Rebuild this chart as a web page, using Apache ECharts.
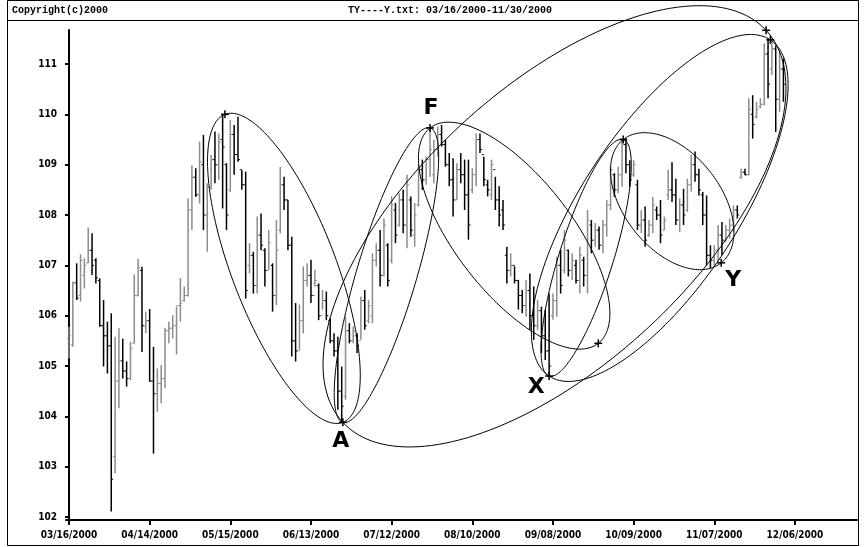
<!DOCTYPE html>
<html>
<head>
<meta charset="utf-8">
<script src="https://cdn.jsdelivr.net/npm/echarts@6/dist/echarts.min.js"></script>
<style>
  html, body { margin: 0; padding: 0; background: #fff; }
  #chart { width: 864px; height: 547px; }
</style>
</head>
<body>
<div id="chart"></div>
<script>
// tick labels, one every 21 bars
const dateLabels = ['03/16/2000', '04/14/2000', '05/15/2000', '06/13/2000', '07/12/2000',
  '08/10/2000', '09/08/2000', '10/09/2000', '11/07/2000', '12/06/2000']
const priceTicks = [102, 103, 104, 105, 106, 107, 108, 109, 110, 111]

// daily bars 03/16/2000 - 11/30/2000
const highs = [
  105.78, 106.68, 107.04, 107.22, 107.14, 107.75, 107.64, 107.14, 106.74, 106.31,
  105.88, 106.05, 105.58, 105.75, 105.54, 105.09, 105.48, 106.82, 107.13, 106.97,
  106.08, 106.13, 105.38, 104.95, 105.02, 105.76, 105.88, 106.01, 106.18, 106.75,
  106.58, 108.33, 108.99, 108.93, 109.46, 109.59, 108.63, 109.19, 109.66, 109.62,
  109.99, 109.03, 109.89, 109.79, 109.95, 108.89, 108.86, 107.44, 107.27, 107.97,
  108.03, 107.34, 107.70, 107.04, 107.90, 108.96, 108.76, 108.30, 107.57, 106.25,
  106.22, 106.98, 107.04, 107.11, 106.91, 106.64, 106.51, 106.48, 105.95, 105.65,
  105.58, 104.99, 105.98, 105.85, 105.78, 105.65, 106.38, 106.51, 106.31, 107.24,
  107.44, 107.70, 107.93, 107.44, 108.37, 108.24, 108.43, 108.50, 108.80, 108.37,
  108.24, 109.00, 109.10, 109.16, 109.73, 109.49, 109.76, 109.79, 109.49, 109.23,
  109.13, 109.03, 109.23, 109.10, 109.10, 108.93, 109.62, 109.62, 109.16, 108.70,
  109.10, 108.76, 108.57, 108.30, 107.37, 107.24, 106.98, 106.71, 106.51, 106.71,
  106.84, 106.58, 106.31, 106.18, 106.12, 106.44, 106.44, 107.17, 107.31, 107.70,
  107.31, 107.24, 107.11, 107.37, 107.17, 108.10, 107.90, 107.84, 107.77, 107.90,
  108.30, 108.96, 108.83, 108.96, 109.52, 109.52, 109.09, 109.09, 108.70, 108.10,
  108.17, 107.90, 108.36, 108.17, 108.30, 107.97, 108.90, 109.05, 108.72, 108.33,
  108.52, 108.72, 109.19, 109.26, 108.92, 108.46, 108.39, 107.40, 107.40, 107.80,
  107.86, 107.80, 107.93, 108.19, 108.19, 108.92, 108.92, 110.32, 110.38, 110.25,
  110.32, 111.41, 111.51, 111.51, 111.37, 111.24, 111.11
]
const lows = [
  105.15, 105.38, 106.31, 106.28, 106.54, 107.04, 106.81, 106.64, 105.78, 104.99,
  104.85, 102.11, 102.87, 104.16, 104.75, 104.59, 104.72, 105.45, 106.38, 105.28,
  105.65, 104.69, 103.26, 104.09, 104.26, 104.56, 105.45, 105.55, 105.23, 105.88,
  106.28, 106.38, 107.70, 108.36, 108.23, 107.70, 107.27, 108.50, 108.63, 108.70,
  108.13, 107.70, 108.46, 108.80, 109.06, 108.50, 106.34, 106.84, 106.44, 106.44,
  107.30, 106.58, 106.91, 106.08, 106.21, 107.64, 108.10, 107.30, 105.19, 105.09,
  105.32, 105.65, 106.58, 106.25, 106.58, 105.91, 106.12, 105.91, 105.45, 105.19,
  104.13, 103.88, 104.33, 105.45, 105.45, 105.26, 105.52, 105.72, 105.85, 105.85,
  106.98, 106.58, 106.78, 106.58, 107.04, 107.44, 107.77, 107.64, 107.34, 107.57,
  107.37, 108.17, 108.50, 108.60, 108.76, 108.63, 109.16, 109.36, 108.96, 108.57,
  107.97, 108.30, 108.63, 108.10, 107.51, 108.43, 108.57, 109.23, 108.57, 108.37,
  108.30, 108.10, 107.77, 107.70, 106.64, 106.78, 106.64, 106.12, 106.05, 105.98,
  105.72, 105.52, 105.72, 105.26, 105.12, 104.79, 105.92, 105.98, 106.44, 106.84,
  106.78, 106.71, 106.64, 106.44, 106.58, 106.44, 107.24, 107.37, 107.31, 107.24,
  107.57, 108.10, 108.36, 108.43, 108.56, 108.83, 108.56, 108.76, 107.70, 107.64,
  107.37, 107.57, 107.64, 107.90, 107.44, 107.70, 108.30, 108.26, 107.80, 107.66,
  107.80, 108.06, 108.46, 108.66, 108.39, 107.80, 107.00, 106.94, 107.00, 107.07,
  107.20, 107.47, 107.53, 107.66, 107.93, 108.72, 108.79, 108.79, 109.52, 109.92,
  110.12, 110.18, 110.32, 110.78, 109.65, 110.05, 110.25
]
const opens = [
  105.55, 105.42, 106.65, 106.40, 106.80, 107.05, 107.30, 107.10, 106.70, 105.80,
  105.60, 105.40, 103.20, 104.70, 105.10, 104.90, 104.75, 105.45, 106.40, 106.90,
  105.80, 105.90, 104.70, 104.45, 104.65, 104.75, 105.70, 105.75, 105.80, 106.20,
  106.30, 106.40, 108.10, 108.75, 108.40, 109.00, 108.00, 108.55, 109.10, 109.00,
  109.50, 109.00, 108.50, 109.60, 109.20, 108.90, 108.60, 107.00, 107.20, 106.60,
  107.60, 107.30, 106.90, 107.00, 106.40, 107.70, 108.60, 108.30, 107.40, 105.50,
  105.30, 105.90, 106.70, 106.80, 106.40, 106.60, 106.00, 106.30, 105.90, 105.50,
  105.30, 104.50, 104.40, 105.70, 105.50, 105.60, 105.50, 106.30, 105.90, 106.00,
  107.10, 107.30, 106.80, 107.40, 107.10, 108.10, 107.80, 108.30, 107.80, 108.30,
  107.60, 108.20, 108.90, 108.70, 109.10, 108.80, 109.30, 109.60, 109.40, 109.00,
  108.70, 108.30, 108.90, 108.80, 108.40, 108.50, 108.80, 109.50, 109.20, 108.60,
  108.40, 108.90, 108.30, 108.10, 107.20, 106.90, 107.00, 106.70, 106.40, 106.20,
  106.50, 106.00, 105.80, 106.10, 105.60, 105.30, 106.00, 106.30, 107.00, 106.90,
  107.30, 106.90, 107.00, 106.70, 107.10, 106.80, 107.80, 107.50, 107.70, 107.40,
  107.80, 108.20, 108.80, 108.50, 108.80, 109.40, 109.00, 108.80, 108.60, 107.80,
  107.90, 107.60, 107.80, 108.10, 108.00, 107.70, 108.40, 108.50, 108.40, 107.90,
  108.20, 108.10, 108.60, 109.00, 108.80, 108.40, 108.00, 107.20, 107.10, 107.30,
  107.60, 107.50, 107.70, 107.80, 108.10, 108.75, 108.85, 108.80, 110.00, 109.95,
  110.15, 110.20, 111.20, 110.90, 111.30, 110.30, 110.90
]
const closes = [
  105.60, 106.65, 106.35, 107.10, 107.00, 107.30, 107.00, 106.75, 105.80, 105.60,
  105.40, 102.75, 104.70, 105.10, 104.90, 104.75, 105.35, 106.40, 106.95, 105.80,
  105.90, 104.70, 104.45, 104.65, 104.75, 105.70, 105.75, 105.80, 106.20, 106.25,
  106.40, 108.10, 108.75, 108.40, 109.05, 108.00, 108.55, 109.10, 109.00, 109.45,
  109.35, 108.00, 109.60, 109.20, 109.10, 108.60, 106.50, 107.20, 106.60, 107.60,
  107.40, 106.90, 107.45, 106.40, 107.30, 108.60, 108.30, 107.40, 105.50, 105.30,
  105.90, 106.70, 106.80, 106.40, 106.70, 106.00, 106.30, 106.00, 105.50, 105.30,
  104.50, 104.20, 105.70, 105.50, 105.70, 105.40, 106.30, 105.80, 106.20, 107.10,
  107.30, 106.80, 107.80, 106.70, 108.20, 107.60, 108.30, 107.80, 108.60, 107.70,
  108.00, 108.90, 108.70, 109.10, 109.30, 109.30, 109.60, 109.40, 109.00, 108.70,
  108.30, 108.90, 108.80, 108.40, 107.80, 108.80, 109.50, 109.30, 108.70, 108.50,
  109.00, 108.30, 108.00, 107.80, 106.90, 107.00, 106.70, 106.40, 106.20, 106.50,
  106.00, 105.80, 106.10, 105.60, 105.30, 105.00, 106.30, 107.00, 106.60, 107.50,
  106.90, 107.10, 106.70, 107.20, 106.80, 107.90, 107.50, 107.70, 107.40, 107.80,
  108.20, 108.90, 108.50, 108.80, 109.40, 109.00, 108.70, 109.00, 107.80, 107.90,
  107.50, 107.80, 108.20, 108.00, 107.60, 107.90, 108.50, 108.40, 107.90, 108.20,
  108.00, 108.60, 109.00, 108.80, 108.50, 108.00, 107.20, 107.10, 107.30, 107.60,
  107.50, 107.70, 107.80, 108.10, 108.00, 108.85, 108.80, 110.10, 109.80, 110.10,
  110.20, 111.20, 110.60, 111.30, 110.30, 110.90, 110.60
]

// pivot points marked with "+" : [bar index, price]
const pivots = [
  [40.6, 110.00],   // 0  May high
  [71.3, 103.88],   // 1  A
  [94.0, 109.73],   // 2  F
  [137.8, 105.45],  // 3  end of F ellipse
  [125.0, 104.80],  // 4  X
  [144.3, 109.50],  // 5  Oct high
  [169.8, 107.05],  // 6  Y
  [181.5, 111.67],  // 7  top
  [182.6, 111.48]   // 8  top 2
]
// ellipses between two pivots: [from, to, half width px]
const ellipses = [
  [0, 1, 52], [1, 2, 30], [2, 3, 58], [4, 5, 27], [5, 6, 48], [4, 8, 78], [1, 7, 138]
]
const waveNames = [['A', 1, -2, 19], ['F', 2, 1, -20], ['X', 4, -13, 11], ['Y', 6, 12, 17]]

const chart = echarts.init(document.getElementById('chart'))

const bars = highs.map((h, i) => [i, opens[i], h, lows[i], closes[i]])

const renderBar = (params, api) => {
  const x = api.coord([api.value(0), api.value(2)])[0]
  const yO = api.coord([0, api.value(1)])[1]
  const yH = api.coord([0, api.value(2)])[1]
  const yL = api.coord([0, api.value(3)])[1]
  const yC = api.coord([0, api.value(4)])[1]
  const col = api.value(4) >= api.value(1) ? '#8c8c8c' : '#000'
  const st = { stroke: col, lineWidth: 1.5 }
  return {
    type: 'group',
    children: [
      { type: 'line', shape: { x1: x, y1: yH, x2: x, y2: yL }, style: st },
      { type: 'line', shape: { x1: x - 2, y1: yO, x2: x, y2: yO }, style: { stroke: col, lineWidth: 1 } },
      { type: 'line', shape: { x1: x, y1: yC, x2: x + 2, y2: yC }, style: { stroke: col, lineWidth: 1 } }
    ]
  }
}

const renderEllipse = (params, api) => {
  const p1 = api.coord([api.value(0), api.value(1)])
  const p2 = api.coord([api.value(2), api.value(3)])
  const b = api.value(4)
  const cx = (p1[0] + p2[0]) / 2, cy = (p1[1] + p2[1]) / 2
  const dx = p2[0] - p1[0], dy = p2[1] - p1[1]
  const a = Math.sqrt(dx * dx + dy * dy) / 2
  const ux = dx / (2 * a), uy = dy / (2 * a)
  const pts = []
  for (let k = 0; k <= 180; k++) {
    const t = k / 180 * Math.PI * 2
    const ca = a * Math.cos(t), sb = b * Math.sin(t)
    pts.push([cx + ca * ux - sb * uy, cy + ca * uy + sb * ux])
  }
  return { type: 'polyline', shape: { points: pts }, style: { stroke: '#000', lineWidth: 1, fill: null } }
}

const renderPlus = (params, api) => {
  const p = api.coord([api.value(0), api.value(1)])
  const st = { stroke: '#000', lineWidth: 1.5 }
  return {
    type: 'group',
    children: [
      { type: 'line', shape: { x1: p[0] - 4, y1: p[1], x2: p[0] + 4, y2: p[1] }, style: st },
      { type: 'line', shape: { x1: p[0], y1: p[1] - 4, x2: p[0], y2: p[1] + 4 }, style: st }
    ]
  }
}

const renderName = (params, api) => {
  const p = api.coord([api.value(0), api.value(1)])
  return {
    type: 'text',
    x: p[0] + api.value(2), y: p[1] + api.value(3),
    style: {
      text: waveNames[params.dataIndex][0], fill: '#000',
      font: 'bold 22px "DejaVu Sans", sans-serif', align: 'center', verticalAlign: 'middle'
    }
  }
}

const axisFont = { color: '#000', fontSize: 10, fontWeight: 'bold', fontFamily: '"Liberation Sans Narrow", "DejaVu Sans Condensed", sans-serif' }

chart.setOption({
  animation: false,
  backgroundColor: '#fff',
  grid: { left: 66, right: 7, top: 30, bottom: 27 },
  xAxis: {
    type: 'value', min: -0.78, max: 205.16,
    splitLine: { show: false },
    axisLine: { lineStyle: { color: '#000', width: 2 } },
    axisTick: { customValues: dateLabels.map((d, i) => i * 21), length: 5, lineStyle: { color: '#000', width: 2 } },
    axisLabel: {
      customValues: dateLabels.map((d, i) => i * 21), margin: 10, ...axisFont,
      formatter: v => dateLabels[Math.round(v / 21)]
    }
  },
  yAxis: {
    type: 'value', min: 101.94, max: 111.676,
    splitLine: { show: false },
    axisLine: { show: true, lineStyle: { color: '#000', width: 2 } },
    axisTick: { show: true, customValues: priceTicks, length: 4, lineStyle: { color: '#000', width: 2 } },
    axisLabel: { customValues: priceTicks, margin: 9, ...axisFont }
  },
  graphic: [
    { type: 'rect', shape: { x: 7.5, y: 0.5, width: 851, height: 545 }, style: { stroke: '#000', fill: null, lineWidth: 1 } },
    { type: 'line', shape: { x1: 8, y1: 20.5, x2: 858, y2: 20.5 }, style: { stroke: '#000', lineWidth: 1 } },
    { type: 'text', x: 12, y: 10, style: { text: 'Copyright(c)2000', font: 'bold 10px "Liberation Mono", monospace', fill: '#000', verticalAlign: 'middle' } },
    { type: 'text', x: 450, y: 10, style: { text: 'TY----Y.txt: 03/16/2000-11/30/2000', font: 'bold 10px "Liberation Mono", monospace', fill: '#000', align: 'center', verticalAlign: 'middle' } }
  ],
  series: [
    { type: 'custom', renderItem: renderBar, data: bars, encode: { x: 0, y: [2, 3] }, z: 2 },
    {
      type: 'custom', renderItem: renderEllipse, clip: false, z: 3,
      data: ellipses.map(e => [pivots[e[0]][0], pivots[e[0]][1], pivots[e[1]][0], pivots[e[1]][1], e[2]])
    },
    { type: 'custom', renderItem: renderPlus, data: pivots, z: 4 },
    {
      type: 'custom', renderItem: renderName, z: 4,
      data: waveNames.map(w => [pivots[w[1]][0], pivots[w[1]][1], w[2], w[3]])
    }
  ]
})
</script>
</body>
</html>
